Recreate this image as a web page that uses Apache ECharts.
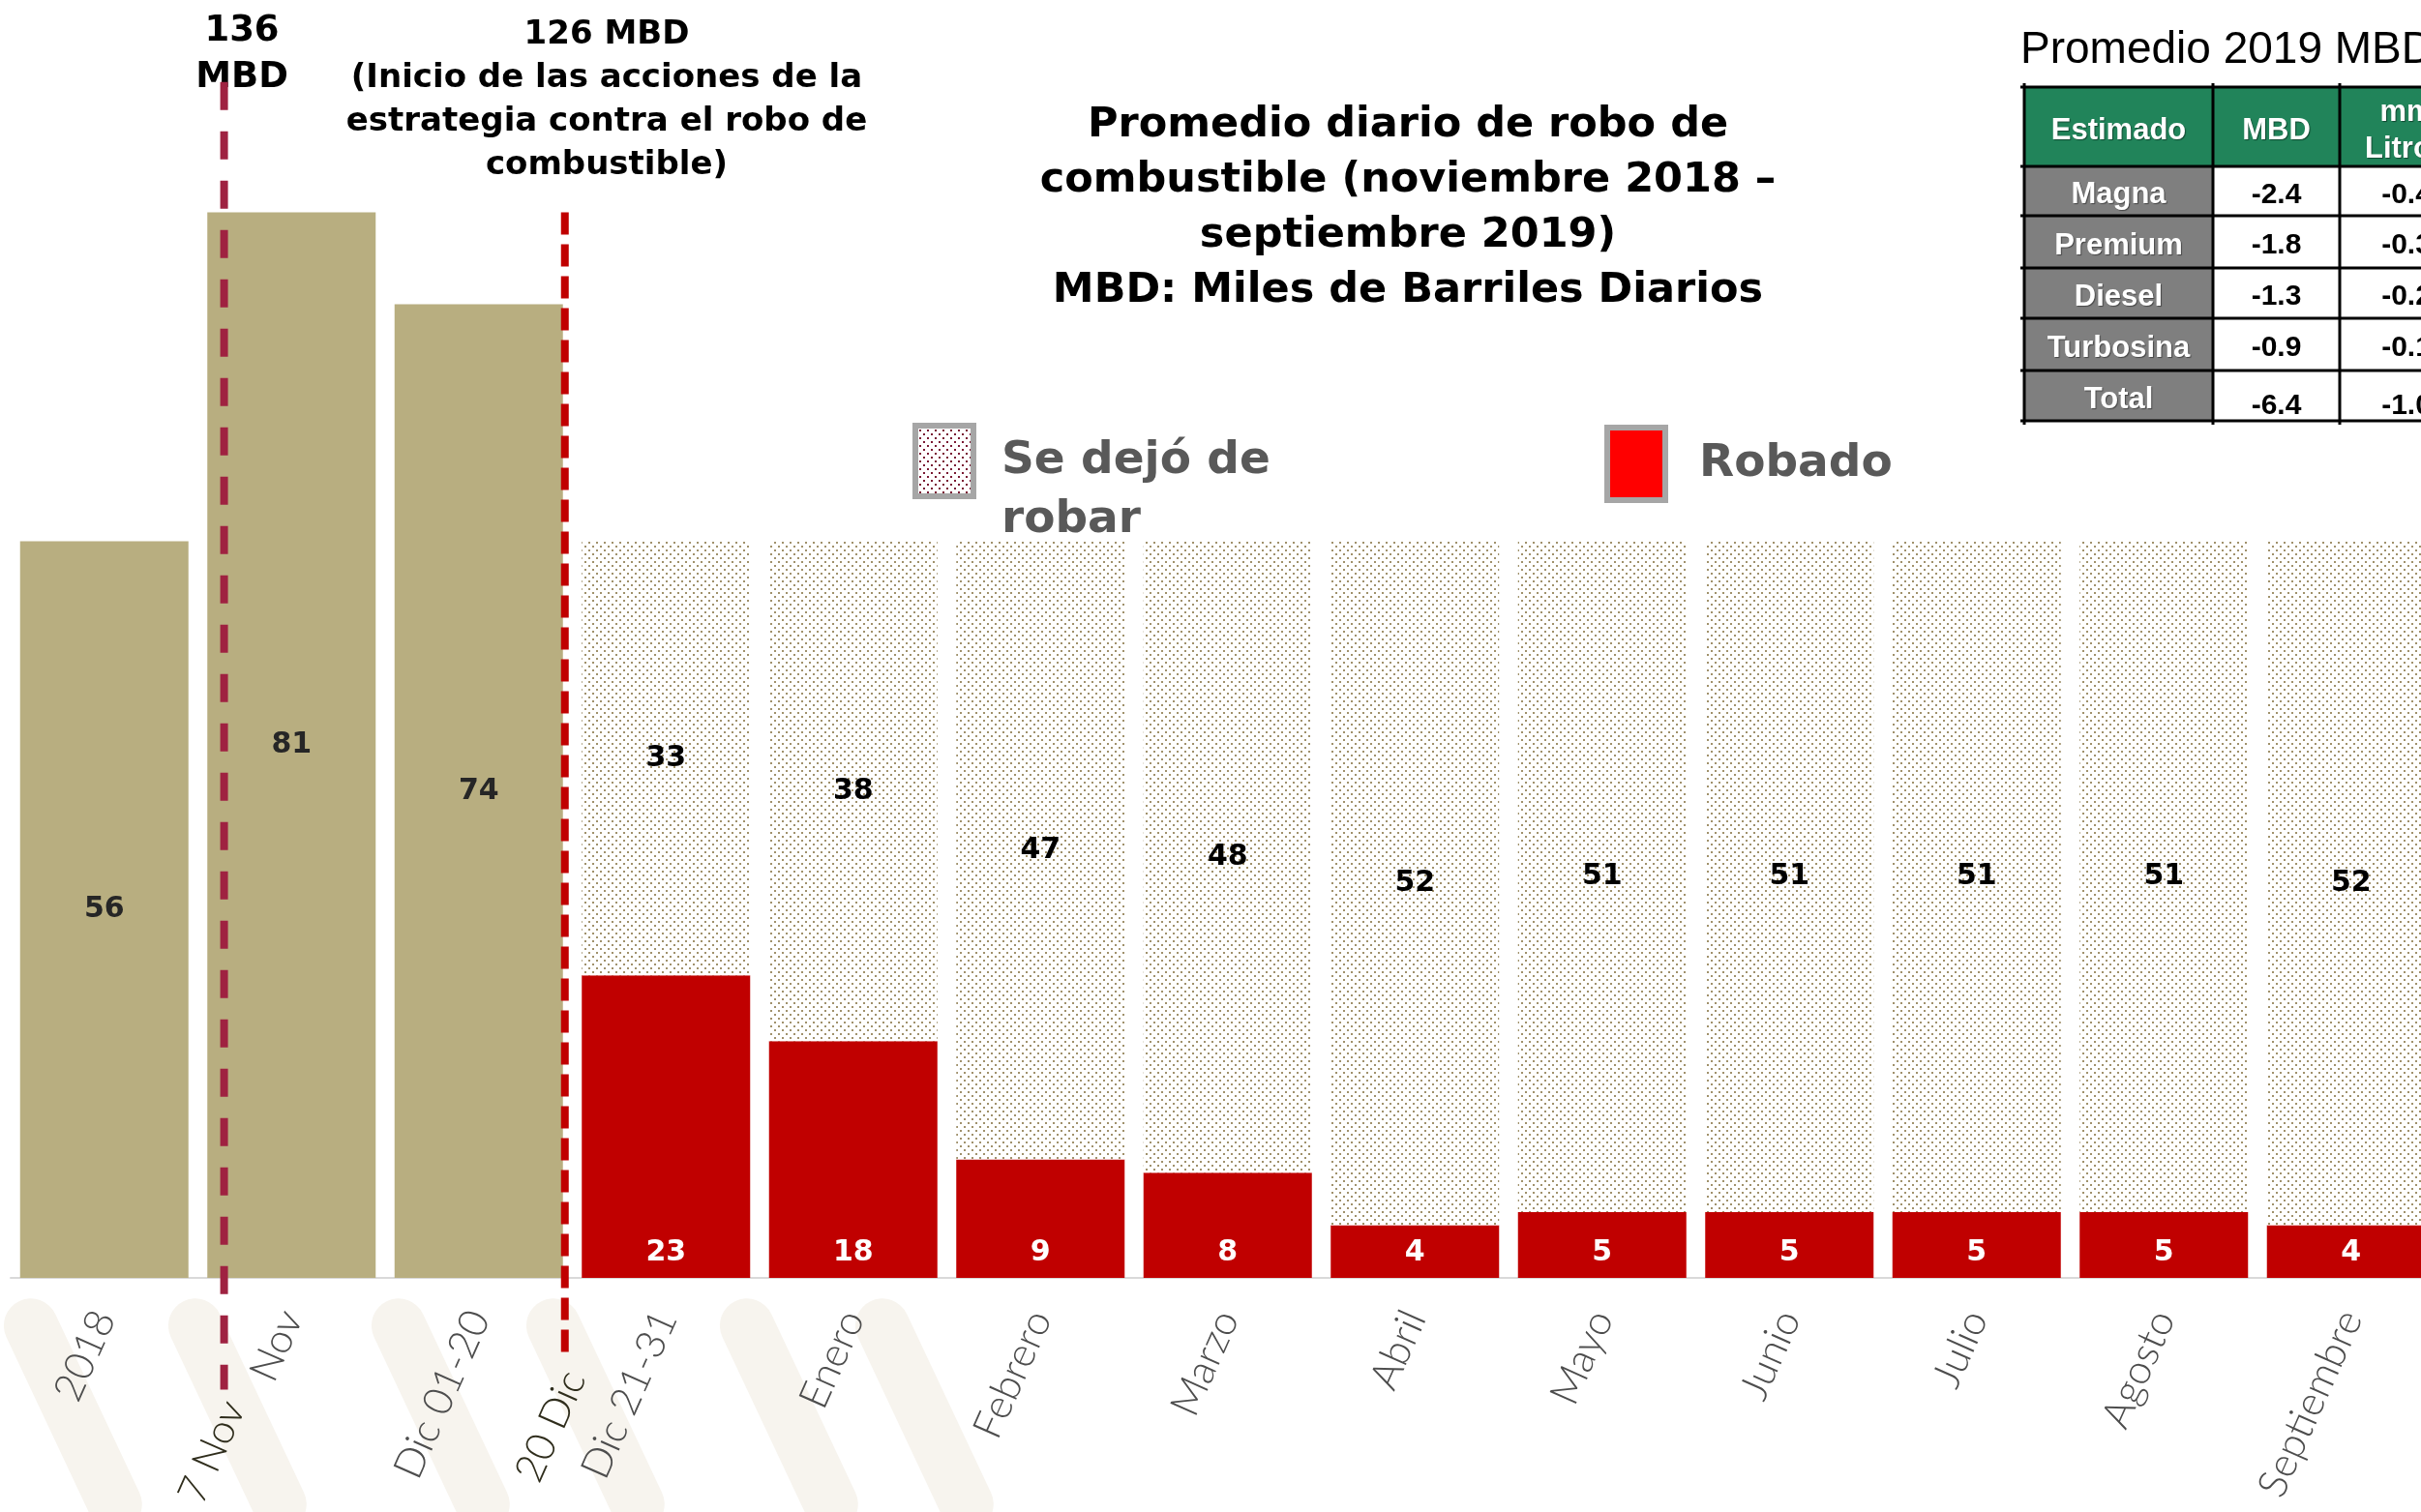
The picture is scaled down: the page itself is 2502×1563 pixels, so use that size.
<!DOCTYPE html>
<html>
<head>
<meta charset="utf-8">
<title>Promedio diario de robo de combustible</title>
<script src="https://cdn.jsdelivr.net/npm/echarts@6/dist/echarts.min.js"></script>
<style>
  html, body { margin: 0; padding: 0; background: #fff; }
  #chart { width: 2502px; height: 1563px; }
</style>
</head>
<body>
<div id="chart"></div>
<script>
// categorías y valores (MBD)
const categorias = ['2018', 'Nov', 'Dic 01-20', 'Dic 21-31', 'Enero', 'Febrero', 'Marzo', 'Abril', 'Mayo', 'Junio', 'Julio', 'Agosto', 'Septiembre'];
const antes = [56, 81, 74, '-', '-', '-', '-', '-', '-', '-', '-', '-', '-'];
const robado = ['-', '-', '-', 23, 18, 9, 8, 4, 5, 5, 5, 5, 4];
const dejoRobar = ['-', '-', '-', 33, 38, 47, 48, 52, 51, 51, 51, 51, 52];

// líneas de eventos (posición sobre la escala de categorías)
const eventos = ['7 Nov', '20 Dic'];
const eventoPos = [0.64, 2.46];
const eventoArriba = [90.9, 81];
const eventoAbajo = [-8.5, -6.2];

// tabla promedio 2019
const tablaEncabezado = ['Estimado', 'MBD', 'mm\nLitros'];
const tablaFilas = ['Magna', 'Premium', 'Diesel', 'Turbosina', 'Total'];
const tablaMBD = ['-2.4', '-1.8', '-1.3', '-0.9', '-6.4'];
const tablaLitros = ['-0.4', '-0.3', '-0.2', '-0.1', '-1.0'];

// patrón de puntos para "Se dejó de robar"
function patron(fondo, punto) {
  let c = document.createElement('canvas')
  c.width = 8; c.height = 8
  let ctx = c.getContext('2d')
  ctx.fillStyle = fondo
  ctx.fillRect(0, 0, 8, 8)
  ctx.fillStyle = punto
  ctx.fillRect(0, 0, 2, 2)
  ctx.fillRect(4, 4, 2, 2)
  return { image: c, repeat: 'repeat' }
}
let puntos = patron('#ffffff', '#a0916b')
let puntosLeyenda = patron('#ffffff', '#7a1a33')

let fuente = '"DejaVu Sans", Verdana, sans-serif'
let colorEvento = ['#9f2241', '#c00000']
let dashEvento = [[29, 22], [23, 10]]

// marca de agua tenue bajo el eje
let beige = '#f7f4ee'
let fondo = []
let franjasX = [20, 190, 400, 560, 760, 900]
franjasX.forEach(x => {
  fondo.push({ type: 'rect', z: -10, silent: true, x: x, y: 1345, rotation: -Math.PI * 0.36, shape: { x: 0, y: -28, width: 260, height: 56, r: 28 }, style: { fill: beige } })
})

// tabla con graphic
let colX = [2092, 2287, 2418, 2556]
let rowY = [90, 172, 223, 277, 329, 383, 435]
let tabla = [
  { type: 'text', x: 2088, y: 52, style: { text: 'Promedio 2019 MBD', font: '46px "Liberation Sans", Arial', fill: '#000', align: 'left', verticalAlign: 'middle' } },
  { type: 'rect', shape: { x: colX[0], y: rowY[0], width: colX[3] - colX[0], height: rowY[1] - rowY[0] }, style: { fill: '#21845a' } },
  { type: 'rect', shape: { x: colX[0], y: rowY[1], width: colX[1] - colX[0], height: rowY[6] - rowY[1] }, style: { fill: '#7f7f7f' } }
]
let txtBlanco = { font: 'bold 31px "Liberation Sans", Arial', fill: '#fff', align: 'center', verticalAlign: 'middle', lineHeight: 38, textShadowColor: 'rgba(0,0,0,0.45)', textShadowOffsetX: 1, textShadowOffsetY: 1, textShadowBlur: 1 }
let txtNegro = { font: 'bold 30px "Liberation Sans", Arial', fill: '#000', align: 'center', verticalAlign: 'middle' }
tablaEncabezado.forEach((t, j) => {
  tabla.push({ type: 'text', x: (colX[j] + colX[j + 1]) / 2, y: (rowY[0] + rowY[1]) / 2 + 4, style: Object.assign({ text: t }, txtBlanco) })
})
tablaFilas.forEach((t, i) => {
  let cy = (rowY[i + 1] + rowY[i + 2]) / 2 + 4
  let extra = i === 4 ? 7 : 0
  tabla.push({ type: 'text', x: (colX[0] + colX[1]) / 2, y: cy, style: Object.assign({ text: t }, txtBlanco) })
  tabla.push({ type: 'text', x: (colX[1] + colX[2]) / 2, y: cy + extra, style: Object.assign({ text: tablaMBD[i] }, txtNegro) })
  tabla.push({ type: 'text', x: (colX[2] + colX[3]) / 2, y: cy + extra, style: Object.assign({ text: tablaLitros[i] }, txtNegro) })
})
rowY.forEach(y => {
  tabla.push({ type: 'line', shape: { x1: colX[0] - 4, y1: y, x2: colX[3] + 4, y2: y }, style: { stroke: '#000', lineWidth: 3 } })
})
colX.forEach(x => {
  tabla.push({ type: 'line', shape: { x1: x, y1: rowY[0] - 4, x2: x, y2: rowY[6] + 4 }, style: { stroke: '#000', lineWidth: 3 } })
})

let myChart = echarts.init(document.getElementById('chart'))
let option = {
  backgroundColor: '#ffffff',
  animation: false,
  grid: { left: 11, right: -24.5, top: 97, bottom: 242, containLabel: false, outerBoundsMode: 'none' },
  legend: [
    {
      data: [{ name: 'Se dejó de robar', icon: 'rect', itemStyle: { color: puntosLeyenda, borderColor: '#a6a6a6', borderWidth: 6 } }],
      left: 938, top: 380, itemWidth: 60, itemHeight: 73, selectedMode: false,
      formatter: () => ' \nSe dejó de\nrobar',
      textStyle: { fontFamily: fuente, fontWeight: 'bold', fontSize: 47, color: '#595959', lineHeight: 61, padding: [0, 0, 0, 24] }
    },
    {
      data: [{ name: 'Robado', icon: 'rect', itemStyle: { color: '#ff0000', borderColor: '#a6a6a6', borderWidth: 6 } }],
      left: 1653, top: 434, itemWidth: 60, itemHeight: 75, selectedMode: false,
      textStyle: { fontFamily: fuente, fontWeight: 'bold', fontSize: 47, color: '#595959', padding: [0, 0, 0, 30] }
    }
  ],
  xAxis: [
    {
      type: 'category',
      data: categorias,
      axisLine: { lineStyle: { color: '#d9d9d9', width: 2 } },
      axisTick: { show: false },
      axisLabel: { rotate: 66, margin: 36, color: '#4d4d4d', fontFamily: 'Lato, sans-serif', fontWeight: 300, fontSize: 42 }
    },
    { type: 'value', min: -0.5, max: 12.5, show: false }
  ],
  yAxis: { type: 'value', min: 0, max: 90, show: false, splitLine: { show: false } },
  graphic: fondo.concat([
    { type: 'text', x: 250, y: 8, style: { text: '136\nMBD', font: 'bold 37px ' + fuente, lineHeight: 48, fill: '#000', align: 'center', verticalAlign: 'top' } },
    { type: 'text', x: 627, y: 14, style: { text: '126 MBD\n(Inicio de las acciones de la\nestrategia contra el robo de\ncombustible)', font: 'bold 34px ' + fuente, lineHeight: 45, fill: '#000', align: 'center', verticalAlign: 'top' } },
    { type: 'text', x: 1455, y: 101, style: { text: 'Promedio diario de robo de\ncombustible (noviembre 2018 –\nseptiembre 2019)\nMBD: Miles de Barriles Diarios', font: 'bold 43px ' + fuente, lineHeight: 57, fill: '#000', align: 'center', verticalAlign: 'top' } }
  ]).concat(tabla),
  series: [
    {
      name: 'Antes', type: 'bar', stack: 'total', barWidth: 174,
      data: antes,
      itemStyle: { color: '#b8ae80' },
      label: { show: true, position: 'inside', color: '#262626', fontFamily: fuente, fontWeight: 'bold', fontSize: 30 }
    },
    {
      name: 'Robado', type: 'bar', stack: 'total', barWidth: 174,
      data: robado,
      itemStyle: { color: '#c00000' },
      label: { show: true, position: 'insideBottom', distance: 11, color: '#ffffff', fontFamily: fuente, fontWeight: 'bold', fontSize: 30 }
    },
    {
      name: 'Se dejó de robar', type: 'bar', stack: 'total', barWidth: 174,
      data: dejoRobar,
      itemStyle: { color: puntos },
      label: { show: true, position: 'inside', color: '#000000', fontFamily: fuente, fontWeight: 'bold', fontSize: 30 }
    },
    {
      name: 'Eventos', type: 'custom', xAxisIndex: 1, yAxisIndex: 0, z: 5, silent: true, clip: false,
      data: eventos.map((n, i) => [eventoPos[i], eventoArriba[i], eventoAbajo[i], i]),
      renderItem: function (params, api) {
        let i = api.value(3)
        let a = api.coord([api.value(0), api.value(1)])
        let b = api.coord([api.value(0), api.value(2)])
        return {
          type: 'group',
          children: [
            { type: 'line', shape: { x1: a[0], y1: a[1], x2: b[0], y2: b[1] }, style: { stroke: colorEvento[i], lineWidth: 8, lineDash: dashEvento[i] } },
            { type: 'text', x: b[0] + 10, y: b[1] + 14, rotation: 66 * Math.PI / 180, style: { text: eventos[i], font: '300 42px Lato, sans-serif', fill: '#2f2d1c', align: 'right', verticalAlign: 'middle' } }
          ]
        }
      }
    }
  ]
}
myChart.setOption(option)
</script>
</body>
</html>
